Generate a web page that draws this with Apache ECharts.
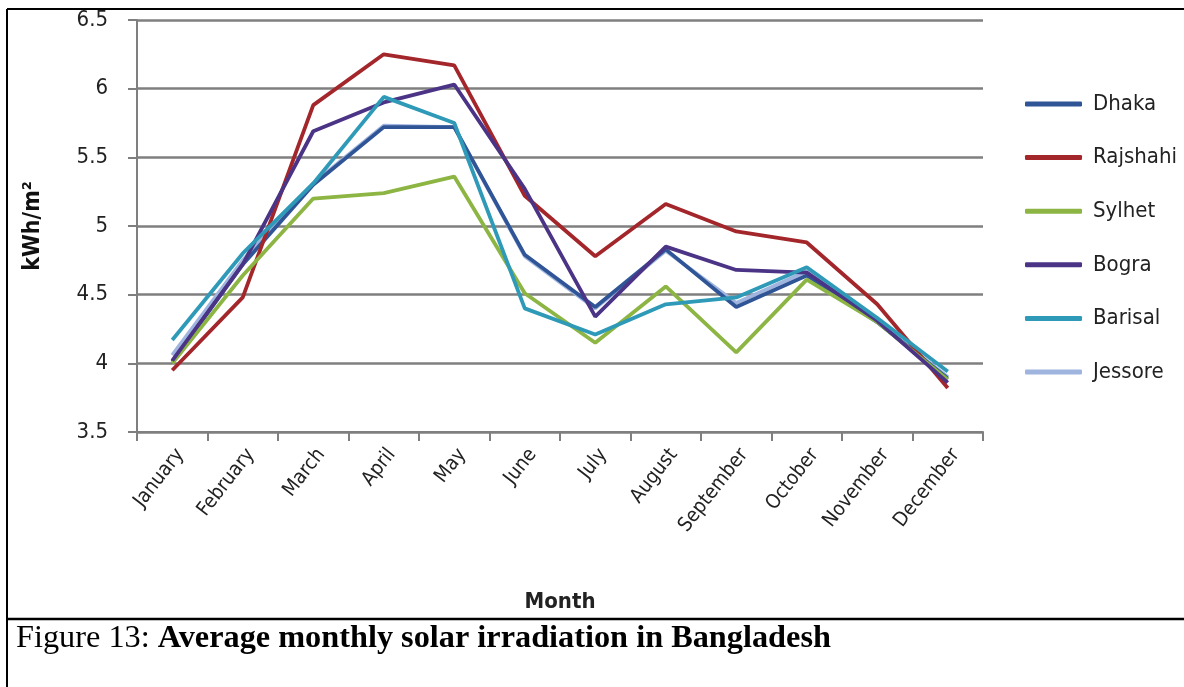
<!DOCTYPE html>
<html>
<head>
<meta charset="utf-8">
<script src="https://cdn.jsdelivr.net/npm/echarts@6/dist/echarts.min.js"></script>
<style>
  html, body { margin: 0; padding: 0; background: #fff; }
  #chart { width: 1184px; height: 687px; }
</style>
</head>
<body>
<div id="chart"></div>
<script>
const months = ['January','February','March','April','May','June','July','August','September','October','November','December'];
const yTicks = { min: 3.5, max: 6.5, interval: 0.5 };

const dhaka    = [4.01, 4.72, 5.30, 5.72, 5.72, 4.79, 4.41, 4.83, 4.41, 4.64, 4.30, 3.89];
const rajshahi = [3.95, 4.48, 5.88, 6.25, 6.17, 5.22, 4.78, 5.16, 4.96, 4.88, 4.43, 3.82];
const sylhet   = [4.00, 4.64, 5.20, 5.24, 5.36, 4.51, 4.15, 4.56, 4.08, 4.61, 4.30, 3.88];
const bogra    = [4.02, 4.72, 5.69, 5.90, 6.03, 5.27, 4.34, 4.85, 4.68, 4.66, 4.31, 3.86];
const barisal  = [4.17, 4.80, 5.31, 5.94, 5.75, 4.40, 4.21, 4.43, 4.48, 4.70, 4.33, 3.94];
const jessore  = [4.06, 4.75, 5.31, 5.73, 5.72, 4.78, 4.40, 4.82, 4.44, 4.67, 4.30, 3.90];

const names  = ['Dhaka','Rajshahi','Sylhet','Bogra','Barisal','Jessore'];
const values = [dhaka, rajshahi, sylhet, bogra, barisal, jessore];
const colors = ['#2f5597','#a3262b','#8cb543','#4b3486','#2e9ab8','#9fb4de'];

const font = "'DejaVu Sans Condensed', 'DejaVu Sans'";
const chart = echarts.init(document.getElementById('chart'));

const series = names.map((n, i) => ({
  name: n,
  type: 'line',
  data: values[i],
  showSymbol: false,
  symbol: 'none',
  z: n === 'Jessore' ? 1 : 2,
  lineStyle: { color: colors[i], width: 3.8 },
  itemStyle: { color: colors[i] }
}));

chart.setOption({
  animation: false,
  backgroundColor: '#ffffff',
  color: colors,
  grid: { left: 137, right: 201, top: 20, bottom: 255, containLabel: false },
  legend: {
    orient: 'vertical',
    left: 1020,
    top: 88,
    data: names,
    icon: 'roundRect',
    itemWidth: 57,
    itemHeight: 5,
    itemGap: 31.6,
    textStyle: { fontFamily: font, fontSize: 22, color: '#222', lineHeight: 20, padding: [0, 0, 0, 6] }
  },
  xAxis: {
    type: 'category',
    data: months,
    boundaryGap: true,
    name: 'Month',
    nameLocation: 'middle',
    nameGap: 159,
    nameTextStyle: { fontFamily: font, fontSize: 22, fontWeight: 'bold', color: '#222' },
    axisLine: { show: true, lineStyle: { color: '#7f7f7f', width: 2 } },
    axisTick: { show: true, alignWithLabel: false, length: 9, lineStyle: { color: '#7f7f7f', width: 2 } },
    axisLabel: { rotate: 52, margin: 13, verticalAlign: 'top', fontFamily: font, fontSize: 20, color: '#222', interval: 0 },
    splitLine: { show: false }
  },
  yAxis: {
    type: 'value',
    min: yTicks.min,
    max: yTicks.max,
    interval: yTicks.interval,
    name: 'kWh/m²',
    nameLocation: 'middle',
    nameGap: 92,
    nameRotate: 90,
    nameTextStyle: { fontFamily: font, fontSize: 23, fontWeight: 'bold', color: '#111' },
    axisLine: { show: true, lineStyle: { color: '#7f7f7f', width: 2 } },
    axisTick: { show: true, inside: false, length: 9, lineStyle: { color: '#7f7f7f', width: 2 } },
    axisLabel: { margin: 29, fontFamily: font, fontSize: 22, color: '#222' },
    splitLine: { show: true, lineStyle: { color: '#7f7f7f', width: 2.5 } }
  },
  series: series,
  graphic: [
    { type: 'line', shape: { x1: 7, y1: 9, x2: 1184, y2: 9 }, style: { stroke: '#000', lineWidth: 2 } },
    { type: 'line', shape: { x1: 7, y1: 9, x2: 7, y2: 687 }, style: { stroke: '#000', lineWidth: 2 } },
    { type: 'line', shape: { x1: 7, y1: 619, x2: 1184, y2: 619 }, style: { stroke: '#000', lineWidth: 2.5 } },
    {
      type: 'text', left: 16, top: 623,
      style: {
        text: '{r|Figure 13: }{b|Average monthly solar irradiation in Bangladesh}',
        rich: {
          r: { fontFamily: 'Liberation Serif', fontSize: 32.3, fill: '#000' },
          b: { fontFamily: 'Liberation Serif', fontSize: 32.3, fontWeight: 'bold', fill: '#000' }
        }
      }
    }
  ]
});
</script>
</body>
</html>
